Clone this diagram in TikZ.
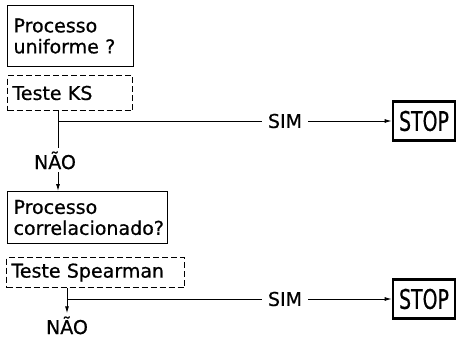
\documentclass[tikz,border=0pt]{standalone}
\usepackage{fontspec}
\setmainfont{DejaVu Sans}
\newfontfamily\flowfont{DejaVu Sans}[FakeBold=0.7]
\usepackage{graphicx}
\usetikzlibrary{arrows.meta, positioning, calc}

\begin{document}
\begin{tikzpicture}[x=1pt, y=-1pt,
  every node/.style={font=\flowfont\fontsize{19}{21}\selectfont},
  qbox/.style={draw, line width=1.1pt, align=left, inner xsep=6pt, anchor=north west},
  testbox/.style={draw, line width=1pt, dash pattern=on 6pt off 3pt, align=left, inner xsep=5pt, anchor=north west},
  stopbox/.style={draw, line width=2.6pt, minimum width=62pt, minimum height=39pt, inner sep=0pt},
  flow/.style={line width=0.9pt},
  tip/.style={flow, -{Latex[length=7pt, width=4pt]}}
]
  \useasboundingbox (0,0) rectangle (458,340);

  % uniformidade
  \node[qbox, text width=114pt, minimum height=61pt] (unif) at (7,5) {Processo\\uniforme ?};
  \node[testbox, text width=115pt, minimum height=35pt] (ks) at (7,75) {Teste KS};
  \coordinate (fork1) at (58,121);
  \node[inner sep=6pt] (sim1) at (285,121) {SIM};
  \node[stopbox] (stop1) at (424,121) {\fontsize{27}{27}\selectfont\scalebox{0.7}[1]{STOP}};
  \node[inner sep=3pt, anchor=base] (nao1) at (55,169) {NÃO};
  \draw[flow] (ks.south -| fork1) -- (nao1.north -| fork1);
  \draw[flow] (fork1) -- (sim1.west);
  \draw[tip] (sim1.east) -- (stop1.west);

  % correlacao
  \node[qbox, text width=148pt, minimum height=52pt] (corr) at (7,191) {Processo\\correlacionado?};
  \draw[tip] (nao1.south -| fork1) -- (corr.north -| fork1);
  \node[testbox, text width=168pt, minimum height=30pt] (spear) at (6,257) {Teste Spearman};
  \coordinate (fork2) at (67,299);
  \node[inner sep=6pt] (sim2) at (285,299) {SIM};
  \node[stopbox] (stop2) at (424,299) {\fontsize{27}{27}\selectfont\scalebox{0.7}[1]{STOP}};
  \node[inner sep=3pt, anchor=base] (nao2) at (67,334) {NÃO};
  \draw[tip] (spear.south -| fork2) -- (nao2.north);
  \draw[flow] (fork2) -- (sim2.west);
  \draw[tip] (sim2.east) -- (stop2.west);
\end{tikzpicture}
\end{document}
